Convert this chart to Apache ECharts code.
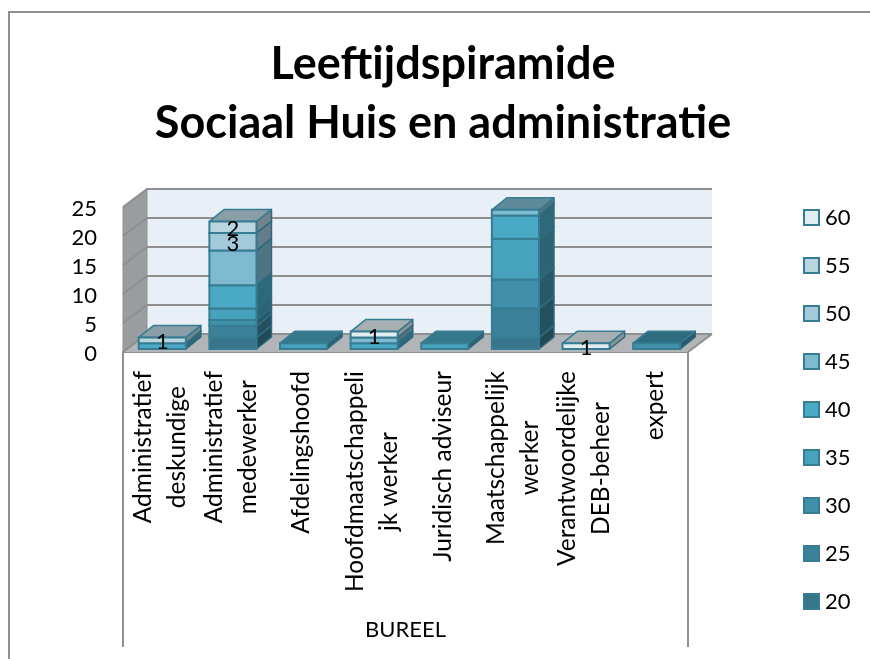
<!DOCTYPE html>
<html>
<head>
<meta charset="utf-8">
<style>
  html, body { margin: 0; padding: 0; background: #fff; }
  #chart { width: 870px; height: 659px; }
</style>
<script src="https://cdn.jsdelivr.net/npm/echarts@6/dist/echarts.min.js"></script>
</head>
<body>
<div id="chart"></div>
<script>
const categories = [
  'Administratief\ndeskundige',
  'Administratief\nmedewerker',
  'Afdelingshoofd',
  'Hoofdmaatschappeli\njk werker',
  'Juridisch adviseur',
  'Maatschappelijk\nwerker',
  'Verantwoordelijke\nDEB-beheer',
  'expert'
]
const yTicks = [0, 5, 10, 15, 20, 25]
const ages = ['20', '25', '30', '35', '40', '45', '50', '55', '60']
const age20 = [0, 2, 0, 0, 0, 2, 0, 0]
const age25 = [0, 2, 0, 0, 0, 5, 0, 0]
const age30 = [0, 1, 0, 0, 0, 5, 0, 1]
const age35 = [0, 2, 1, 0, 1, 7, 0, 0]
const age40 = [1, 4, 0, 1, 0, 4, 0, 0]
const age45 = [0, 6, 0, 1, 0, 1, 0, 0]
const age50 = [0, 3, 0, 0, 0, 0, 0, 0]
const age55 = [1, 2, 0, 0, 0, 0, 0, 0]
const age60 = [0, 0, 0, 1, 0, 0, 1, 0]
const ageValues = [age20, age25, age30, age35, age40, age45, age50, age55, age60]
const ageColors = ['#36758a', '#3b8199', '#4090ab', '#47a2bd', '#4aaac5', '#7fbad0', '#a3cadb', '#b9d5e0', '#e2edf2']
// only these series carry data labels in the chart
const labelledAges = ['50', '55', '60']

const font = 'Lato, Carlito, sans-serif'
const edgeColor = '#367c92'
const gridColor = '#8f8f8f'
// oblique offsets of the fake 3d: wall depth, bar inset, bar depth
const wallDx = 24, wallDy = 18
const insetDx = 4, insetDy = 3
const barDx = 15, barDy = 12

function shade(color, k) {
  const c = echarts.color.parse(color)
  return 'rgb(' + Math.round(c[0] * k) + ',' + Math.round(c[1] * k) + ',' + Math.round(c[2] * k) + ')'
}

function renderWalls(params, api) {
  const g = params.coordSys
  const x0 = g.x, x1 = g.x + g.width
  const y0 = api.coord([0, 0])[1]
  const yTop = api.coord([0, yTicks[yTicks.length - 1]])[1]
  const children = [
    { type: 'polygon', shape: { points: [[x0 + wallDx, yTop - wallDy], [x1 + wallDx, yTop - wallDy], [x1 + wallDx, y0 - wallDy], [x0 + wallDx, y0 - wallDy]] }, style: { fill: '#e8eff6' } },
    { type: 'polygon', shape: { points: [[x0, yTop], [x0 + wallDx, yTop - wallDy], [x0 + wallDx, y0 - wallDy], [x0, y0]] }, style: { fill: '#9a9da0', stroke: gridColor, lineWidth: 1 } },
    { type: 'polygon', shape: { points: [[x0, y0], [x0 + wallDx, y0 - wallDy], [x1 + wallDx, y0 - wallDy], [x1, y0]] }, style: { fill: '#b2b5b7' } }
  ]
  yTicks.forEach(function (t) {
    const y = api.coord([0, t])[1]
    children.push({
      type: 'polyline',
      shape: { points: [[x0, y], [x0 + wallDx, y - wallDy], [x1 + wallDx, y - wallDy]] },
      style: { fill: 'none', stroke: gridColor, lineWidth: 2 }
    })
  })
  // the category frame below the plot
  const yEnd = y0 + 295
  ;[x0, x1].forEach(function (x) {
    children.push({ type: 'line', shape: { x1: x, y1: y0, x2: x, y2: yEnd }, style: { stroke: gridColor, lineWidth: 2 } })
  })
  children.push({ type: 'line', shape: { x1: x1, y1: y0, x2: x1 + wallDx, y2: y0 - wallDy }, style: { stroke: gridColor, lineWidth: 2 } })
  return { type: 'group', children: children }
}

function makeRenderBar(color, showLabel) {
  return function (params, api) {
    const value = api.value(1)
    if (!value) {
      return null
    }
    const base = api.value(2)
    const band = api.size([1, 0])[0]
    const w = band * 2 / 3
    const pb = api.coord([api.value(0), base])
    const pt = api.coord([api.value(0), base + value])
    const xa = pb[0] - w / 2 + insetDx
    const xb = xa + w
    const yb = pb[1] - insetDy
    const yt = pt[1] - insetDy
    const children = [
      { type: 'polygon', shape: { points: [[xb, yb], [xb + barDx, yb - barDy], [xb + barDx, yt - barDy], [xb, yt]] }, style: { fill: shade(color, 0.62), stroke: shade(edgeColor, 0.85), lineWidth: 1.5, lineJoin: 'round' } },
      { type: 'polygon', shape: { points: [[xa, yt], [xa + barDx, yt - barDy], [xb + barDx, yt - barDy], [xb, yt]] }, style: { fill: shade(color, 0.74), stroke: edgeColor, lineWidth: 1.5, lineJoin: 'round' } },
      { type: 'rect', shape: { x: xa, y: yt, width: w, height: yb - yt }, style: { fill: color, stroke: edgeColor, lineWidth: 2 } }
    ]
    if (showLabel) {
      children.push({
        type: 'text',
        z2: 100,
        style: { text: String(value), x: (xa + xb) / 2, y: (yb + yt) / 2 + 2, align: 'center', verticalAlign: 'middle', fontFamily: font, fontSize: 22, fill: '#000' }
      })
    }
    return { type: 'group', children: children }
  }
}

const running = categories.map(function () { return 0 })
const barSeries = ages.map(function (age, s) {
  const data = ageValues[s].map(function (v, i) {
    const row = [i, v, running[i]]
    running[i] += v
    return row
  })
  return {
    type: 'custom',
    name: age,
    coordinateSystem: 'cartesian2d',
    clip: false,
    silent: true,
    itemStyle: { color: ageColors[s] },
    encode: { x: 0, y: 1 },
    renderItem: makeRenderBar(ageColors[s], labelledAges.indexOf(age) >= 0),
    data: data
  }
})

const chart = echarts.init(document.getElementById('chart'), null, { renderer: 'canvas' })
chart.setOption({
  backgroundColor: '#fff',
  animation: false,
  title: {
    text: 'Leeftijdspiramide\nSociaal Huis en administratie',
    left: 438,
    top: 30,
    textAlign: 'center',
    textStyle: { fontFamily: font, fontWeight: 'bold', fontSize: 45, lineHeight: 59, color: '#000' }
  },
  graphic: [
    { type: 'polyline', shape: { points: [[9, 659], [9, 12], [870, 12]] }, style: { fill: 'none', stroke: gridColor, lineWidth: 2 } }
  ],
  legend: {
    orient: 'vertical',
    left: 798,
    top: 200,
    itemWidth: 15,
    itemHeight: 15,
    itemGap: 23,
    icon: 'rect',
    selectedMode: false,
    textStyle: { fontFamily: font, fontSize: 22, color: '#000', lineHeight: 25, padding: [0, 0, 0, 1] },
    data: ages.slice().reverse().map(function (age) {
      return {
        name: age,
        itemStyle: { color: ageColors[ages.indexOf(age)], borderColor: edgeColor, borderWidth: 2 }
      }
    })
  },
  grid: { left: 123, right: 182, top: 207, bottom: 307 },
  xAxis: {
    type: 'category',
    data: categories,
    axisLine: { show: true, lineStyle: { color: gridColor, width: 2 } },
    axisTick: { show: false },
    name: 'BUREEL',
    nameLocation: 'middle',
    nameGap: 267,
    nameTextStyle: { fontFamily: font, fontSize: 22, color: '#000' },
    axisLabel: {
      interval: 0,
      rotate: 90,
      margin: 19,
      hideOverlap: false,
      padding: [4, 0, 0, 0],
      formatter: function (val) {
        return val.split('\n').map(function (line) { return '{c|' + line + '}' }).join('\n')
      },
      rich: {
        c: { fontFamily: font, fontSize: 24.5, color: '#000', align: 'center', lineHeight: 34 }
      }
    }
  },
  yAxis: {
    type: 'value',
    min: 0,
    max: 25,
    interval: 5,
    axisLine: { show: false },
    axisTick: { show: false },
    splitLine: { show: false },
    axisLabel: {
      margin: 26,
      formatter: '{v|{value}}',
      rich: {
        v: { fontFamily: font, fontSize: 22, color: '#000', padding: [4, 0, 0, 0] }
      }
    }
  },
  series: [
    { type: 'custom', name: 'walls', coordinateSystem: 'cartesian2d', clip: false, silent: true, z: 1, renderItem: renderWalls, data: [[0, 0]], encode: { x: 0, y: 1 } }
  ].concat(barSeries)
})
</script>
</body>
</html>
